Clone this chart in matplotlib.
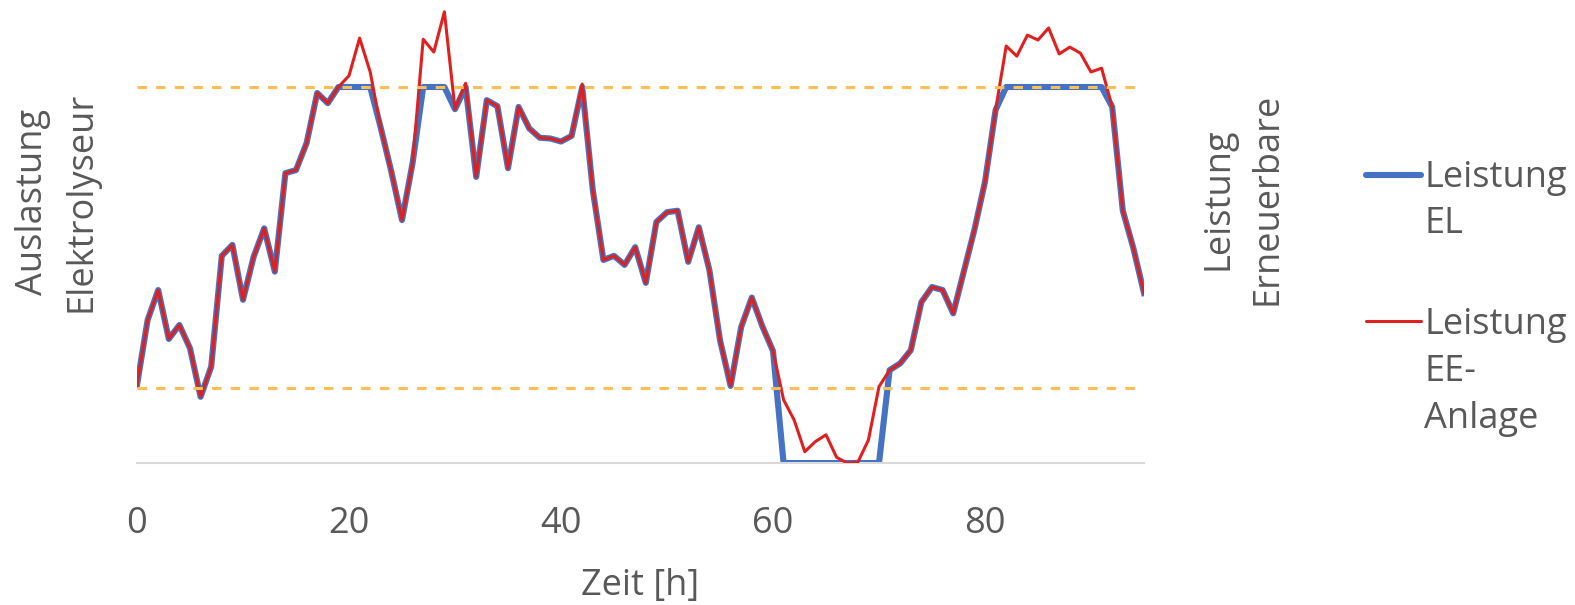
import numpy as np
import matplotlib
matplotlib.use("Agg")
import matplotlib.pyplot as plt
from matplotlib.lines import Line2D

# hourly values, normalised to electrolyser rated power (1.0)
hours = np.arange(0, 96)

p_ee = [0.207, 0.380, 0.460, 0.330, 0.367, 0.305, 0.176, 0.256, 0.551, 0.580,
        0.434, 0.548, 0.624, 0.509, 0.771, 0.779, 0.851, 0.984, 0.957, 1.000,
        1.030, 1.130, 1.040, 0.891, 0.774, 0.646, 0.798, 1.127, 1.093, 1.200,
        0.941, 1.010, 0.761, 0.965, 0.949, 0.784, 0.947, 0.890, 0.865, 0.863,
        0.855, 0.870, 1.008, 0.726, 0.540, 0.551, 0.527, 0.574, 0.479, 0.641,
        0.667, 0.671, 0.535, 0.627, 0.513, 0.327, 0.205, 0.362, 0.440, 0.363,
        0.298, 0.168, 0.114, 0.030, 0.057, 0.075, 0.015, 0.000, 0.002, 0.061,
        0.203, 0.247, 0.265, 0.300, 0.428, 0.468, 0.460, 0.398, 0.509, 0.620,
        0.748, 0.939, 1.109, 1.082, 1.138, 1.125, 1.157, 1.088, 1.106, 1.090,
        1.040, 1.050, 0.947, 0.671, 0.571, 0.452]

p_el = [0.207, 0.380, 0.460, 0.330, 0.367, 0.305, 0.176, 0.256, 0.551, 0.580,
        0.434, 0.548, 0.624, 0.509, 0.771, 0.779, 0.851, 0.984, 0.957, 1.000,
        1.000, 1.000, 1.000, 0.891, 0.774, 0.646, 0.798, 1.000, 1.000, 1.000,
        0.941, 1.000, 0.761, 0.965, 0.949, 0.784, 0.947, 0.890, 0.865, 0.863,
        0.855, 0.870, 1.000, 0.726, 0.540, 0.551, 0.527, 0.574, 0.479, 0.641,
        0.667, 0.671, 0.535, 0.627, 0.513, 0.327, 0.205, 0.362, 0.440, 0.363,
        0.298, 0.000, 0.000, 0.000, 0.000, 0.000, 0.000, 0.000, 0.000, 0.000,
        0.000, 0.247, 0.265, 0.300, 0.428, 0.468, 0.460, 0.398, 0.509, 0.620,
        0.748, 0.939, 1.000, 1.000, 1.000, 1.000, 1.000, 1.000, 1.000, 1.000,
        1.000, 1.000, 0.947, 0.671, 0.571, 0.452]

el_max = 1.0
el_min = 0.2
xticks = [0, 20, 40, 60, 80]

grey = "#595959"
fs = 26
plt.rcParams["font.family"] = ["Open Sans", "DejaVu Sans"]

fig = plt.figure(figsize=(15.75, 6.05), dpi=100)
ax = fig.add_axes([137 / 1575, 1 - 463 / 605, (1144 - 137) / 1575, 463 / 605])

ax.plot(hours, p_el, color="#4472C4", lw=4.4, solid_joinstyle="round", zorder=2)
ax.plot(hours, p_ee, color="#E0201E", lw=2.2, zorder=3)
for lim in (el_max, el_min):
    ax.plot(hours, [lim] * len(hours), color="#FFBE55", lw=2.2,
            dashes=(3.1, 3.0), zorder=4)

ax.set_xlim(0, 95)
ax.set_ylim(0, 463 / 376)
ax.set_xticks(xticks)
ax.set_yticks([])
ax.tick_params(axis="x", length=0, pad=31, labelsize=fs, labelcolor=grey)
for s in ("top", "left", "right"):
    ax.spines[s].set_visible(False)
ax.spines["bottom"].set_color("#D9D9D9")
ax.spines["bottom"].set_linewidth(1.5)
ax.set_xlabel("Zeit [h]", fontsize=fs, color=grey, labelpad=19)

fig.text(57 / 1575, 1 - 202 / 605, "Auslastung\nElektrolyseur", rotation=90,
         ha="center", va="center", ma="center", fontsize=fs, color=grey,
         linespacing=1.45)
fig.text(1243 / 1575, 1 - 199 / 605, "Leistung\nErneuerbare", rotation=90,
         ha="center", va="center", ma="center", fontsize=fs, color=grey,
         linespacing=1.45)

# legend drawn by hand, placed like the original
entries = [("Leistung\nEL", "#4472C4", 4.4, 175, 201),
           ("Leistung\nEE-\nAnlage", "#E0201E", 2.2, 321, 372)]
for label, col, lw, y_line, y_txt in entries:
    fig.add_artist(Line2D([1366 / 1575, 1421 / 1575], [1 - y_line / 605] * 2,
                          color=col, lw=lw, solid_capstyle="round"))
    fig.text(1424 / 1575, 1 - y_txt / 605, label, ha="left", va="center",
             fontsize=fs, color=grey, linespacing=1.4)

fig.savefig("out.png", dpi=100)
